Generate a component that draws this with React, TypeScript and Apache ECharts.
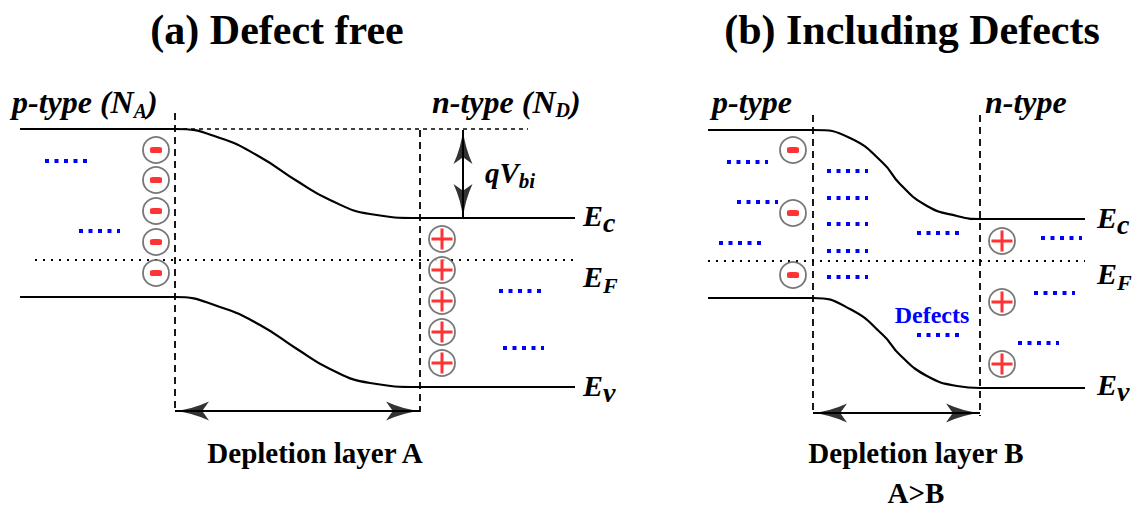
import React, { useEffect, useRef } from "react";
import * as echarts from "echarts";

const W = 1139;
const H = 509;
const FONT = "Liberation Serif, Times New Roman, Times, serif";

// ---------- data (figure units: x to the right, y downward) ----------
// band edges [x, y]
const conductionA = [[20, 129], [150, 129], [175, 129], [220, 138], [260, 157], [297, 181], [330, 200], [370, 214], [420, 218], [445, 218], [575, 218]];
const valenceA = [[20, 297], [150, 297], [175, 297], [220, 307], [260, 325], [297, 349], [330, 369], [370, 383], [420, 387], [445, 387], [575, 387]];
const conductionB = [[708, 130], [790, 130], [813, 130], [850, 138], [883, 163], [900, 184], [927, 206], [957, 216], [980, 219], [1000, 219], [1085, 219]];
const valenceB = [[708, 298], [790, 298], [813, 298], [850, 309], [883, 335], [900, 355], [927, 376], [957, 386], [980, 388], [1000, 388], [1085, 388]];

// horizontal guides [x1, x2, y]
const fermiLevels = [[35, 575, 260], [708, 1085, 261]];
const builtInReference = [[175, 528, 129]];
// vertical junction edges [x, y1, y2]
const junctionEdges = [[175, 113, 412], [420, 130, 412], [813, 115, 415], [980, 115, 416]];
// double arrows
const depletionSpans = [[175, 420, 411], [813, 980, 413]]; // [x1, x2, y]
const builtInSpan = [[463, 130, 218]]; // [x, y1, y2]

// ionised impurities [x, y]
const acceptorsA = [[156, 150], [156, 180], [156, 211], [156, 242], [156, 273]];
const donorsA = [[442, 239], [442, 270], [442, 301], [442, 332], [442, 363]];
const acceptorsB = [[793, 150], [793, 213], [793, 275]];
const donorsB = [[1002, 241], [1002, 302], [1002, 364]];

// carrier / defect levels [x1, x2, y]
const levelsA = [[45, 87, 161], [79, 120, 231], [499, 542, 291], [503, 544, 348]];
const levelsB = [
  [727, 768, 162], [737, 778, 202], [719, 761, 243],
  [827, 868, 171], [827, 868, 198], [827, 868, 224], [827, 868, 251], [827, 868, 277],
  [917, 959, 233], [917, 959, 335],
  [1041, 1082, 238], [1034, 1075, 293], [1018, 1059, 343],
];

// ---------- helpers ----------
const hSeg = (rows: number[][]) => rows.map(([x1, x2, y]) => ({ coords: [[x1, y], [x2, y]] }));
const vSeg = (rows: number[][]) => rows.map(([x, y1, y2]) => ({ coords: [[x, y1], [x, y2]] }));

const bandLine = (data: number[][]) => ({
  type: "line",
  data,
  smooth: 0.5,
  symbol: "none",
  silent: true,
  lineStyle: { color: "#000", width: 2.2 },
  z: 3,
});

const segs = (data: any[], lineStyle: any, z = 2) => ({
  type: "lines",
  coordinateSystem: "cartesian2d",
  data,
  silent: true,
  symbol: ["none", "none"],
  lineStyle: { color: "#000", opacity: 1, ...lineStyle },
  z,
});

const ARROW = "path://M10 0 Q12 18 20 35 L10 28 L0 35 Q8 18 10 0 Z";
const head = (data: number[][], rotate: number, offset: number[]) => ({
  type: "scatter",
  data,
  symbol: ARROW,
  symbolSize: [19, 34],
  symbolRotate: rotate,
  symbolOffset: offset,
  silent: true,
  itemStyle: { color: "#000" },
  z: 6,
});

const ionCircle = (data: number[][]) => ({
  type: "scatter",
  data,
  symbol: "circle",
  symbolSize: 26,
  silent: true,
  itemStyle: { color: "#fff", borderColor: "#555", borderWidth: 1.8 },
  z: 7,
});
const PLUS = "path://M0 9H21V12H0Z M9 0H12V21H9Z";
const ionSign = (data: number[][], plus: boolean) => ({
  type: "scatter",
  data,
  symbol: plus ? PLUS : "roundRect",
  symbolSize: plus ? 21 : [12, 6],
  silent: true,
  itemStyle: { color: "#ff0000" },
  z: 8,
});

const bi = (size: number, lh: number, va: string) => ({
  fontFamily: FONT,
  fontSize: size,
  fontWeight: "bold",
  fontStyle: "italic",
  lineHeight: lh,
  verticalAlign: va,
  fill: "#000",
});

// italic label with subscripts: y is the centre of the main glyphs,
// drop = how far the subscript baseline sits below the main baseline
const subLabel = (x: number, y: number, text: string, fsM: number, fsS: number, drop: number) => {
  const delta = drop + 0.34 * (fsM - fsS);
  const L = delta + (fsM + fsS) / 2;
  return {
    type: "text",
    x,
    y: y + (L - fsM) / 2,
    silent: true,
    z: 10,
    style: {
      text,
      align: "left",
      verticalAlign: "middle",
      textAlign: "left",
      textVerticalAlign: "middle",
      rich: { m: bi(fsM, L, "top"), s: bi(fsS, fsS, "bottom") },
    },
  };
};

const plain = (x: number, y: number, text: string, size: number, color = "#000") => ({
  type: "text",
  x,
  y,
  silent: true,
  z: 10,
  style: {
    text,
    fill: color,
    fontFamily: FONT,
    fontSize: size,
    fontWeight: "bold",
    align: "center",
    verticalAlign: "middle",
    textAlign: "center",
    textVerticalAlign: "middle",
  },
});

export default function App() {
  const ref = useRef<HTMLDivElement>(null);

  useEffect(() => {
    if (!ref.current) return;
    const chart = echarts.init(ref.current, null, { renderer: "svg", width: W, height: H });
    const option: any = {
      animation: false,
      backgroundColor: "#fff",
      grid: { left: 0, right: 0, top: 0, bottom: 0, containLabel: false },
      xAxis: { type: "value", min: 0, max: W, show: false },
      yAxis: { type: "value", min: 0, max: H, inverse: true, show: false },
      series: [
        segs(hSeg(fermiLevels), { width: 2, type: [2, 6] }),
        segs(hSeg(builtInReference), { width: 1.6, type: [4, 4] }),
        segs(vSeg(junctionEdges), { width: 1.8, type: [7, 5] }),
        segs(hSeg(depletionSpans), { width: 2 }),
        segs(vSeg(builtInSpan), { width: 2 }),
        segs(hSeg(levelsA.concat(levelsB)), { width: 4, type: [4, 5.5], color: "#0000ff", cap: "butt" }, 4),
        bandLine(conductionA),
        bandLine(valenceA),
        bandLine(conductionB),
        bandLine(valenceB),
        head(builtInSpan.map(([x, y1]) => [x, y1]), 0, [0, 17]),
        head(builtInSpan.map(([x, , y2]) => [x, y2]), 180, [0, -17]),
        head(depletionSpans.map(([x1, , y]) => [x1, y]), 90, [17, 0]),
        head(depletionSpans.map(([, x2, y]) => [x2, y]), -90, [-17, 0]),
        ionCircle(acceptorsA.concat(acceptorsB, donorsA, donorsB)),
        ionSign(acceptorsA.concat(acceptorsB), false),
        ionSign(donorsA.concat(donorsB), true),
      ],
      graphic: [
        plain(277, 30, "(a) Defect free", 42),
        plain(912, 30, "(b) Including Defects", 42),
        subLabel(12, 102, "{m|p-type (N}{s|A}{m|)}", 32, 20, 5),
        subLabel(432, 102, "{m|n-type (N}{s|D}{m|)}", 32, 20, 4),
        subLabel(712, 102, "{m|p-type}", 32, 20, 4),
        subLabel(985, 102, "{m|n-type}", 32, 20, 4),
        subLabel(485, 173, "{m|qV}{s|bi}", 29, 21, 5),
        subLabel(583, 215, "{m|E}{s|c}", 30, 28, 7),
        subLabel(583, 276, "{m|E}{s|F}", 30, 22, 7),
        subLabel(583, 385, "{m|E}{s|v}", 30, 28, 7),
        subLabel(1097, 217, "{m|E}{s|c}", 30, 28, 7),
        subLabel(1097, 273, "{m|E}{s|F}", 30, 22, 7),
        subLabel(1097, 384, "{m|E}{s|v}", 30, 28, 7),
        plain(315, 453, "Depletion layer A", 29),
        plain(916, 453, "Depletion layer B", 29),
        plain(916, 493, "A>B", 29),
        plain(932, 315, "Defects", 24, "#0000ff"),
      ],
    };
    chart.setOption(option);
    return () => chart.dispose();
  }, []);

  return (
    <div
      ref={ref}
      style={{ position: "absolute", left: 0, top: 0, width: W, height: H, background: "#fff" }}
    />
  );
}
